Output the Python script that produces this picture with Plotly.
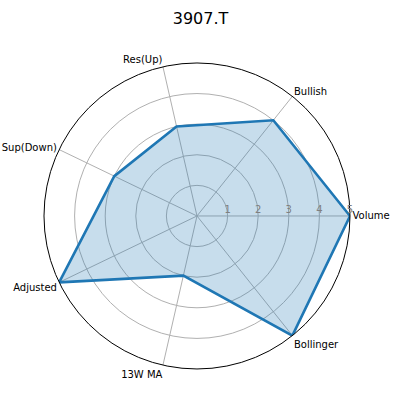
import plotly.graph_objects as go

categories = ["Volume", "Bullish", "Res(Up)", "Sup(Down)", "Adjusted", "13W MA", "Bollinger"]
scores = [5, 4, 3, 3, 5, 2, 5]
radial_ticks = [1, 2, 3, 4, 5]

n = len(categories)
angles = [360 * i / n for i in range(n)]

fig = go.Figure()
fig.add_trace(go.Scatterpolar(
    r=scores + scores[:1],
    theta=angles + angles[:1],
    mode="lines",
    fill="toself",
    fillcolor="rgba(31,119,180,0.25)",
    line=dict(color="#1f77b4", width=2.6),
    showlegend=False,
))

fig.update_layout(
    width=401, height=401,
    margin=dict(l=0, r=0, t=0, b=0),
    paper_bgcolor="white",
    font=dict(family="DejaVu Sans", color="black", size=10),
    title=dict(text="3907.T", x=0.5, y=0.955, xanchor="center", yanchor="middle",
               font=dict(size=16, color="black")),
    polar=dict(
        domain=dict(x=[0.1097, 0.8728], y=[0.0798, 0.843]),
        bgcolor="white",
        angularaxis=dict(
            tickmode="array", tickvals=angles, ticktext=categories,
            rotation=0, direction="counterclockwise",
            showline=True, linecolor="black", linewidth=1,
            gridcolor="#b0b0b0", gridwidth=1,
            ticks="",
            tickfont=dict(size=10, color="black"),
        ),
        radialaxis=dict(
            range=[0, 5], tickvals=radial_ticks, angle=0, tickangle=0,
            side="counterclockwise",
            showline=False, ticks="",
            gridcolor="#b0b0b0", gridwidth=1,
            tickfont=dict(size=10, color="#808080"),
        ),
    ),
)

# page body has an 8px default margin; drop it so the figure sits at 0,0
fig.write_html("out.html", config={"displayModeBar": False},
               post_script="document.body.style.margin='0';")
